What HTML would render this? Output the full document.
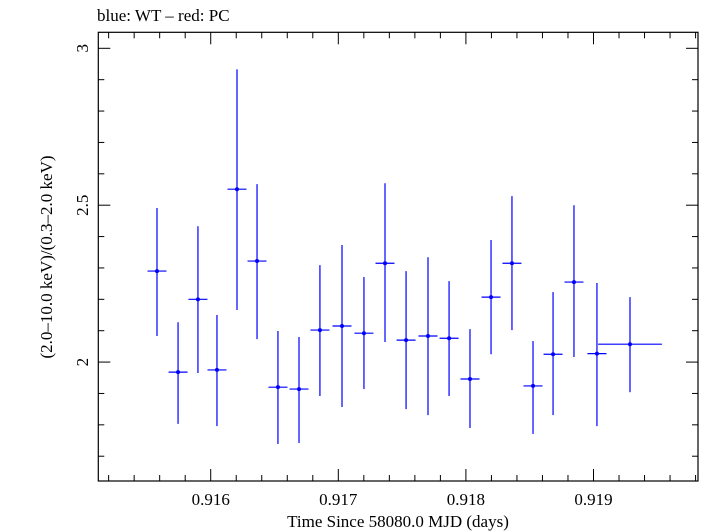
<!DOCTYPE html>
<html><head><meta charset="utf-8"><style>
body{margin:0;background:#fff}
svg{display:block;font-family:"Liberation Serif",serif}
</style></head><body>
<svg id="chart" width="705" height="532">
<text x="97" y="21" font-size="17">blue: WT – red: PC</text>
<rect x="98.3" y="32.3" width="599.7" height="448.7" fill="none" stroke="#000" stroke-width="1.2"/>
<g id="axes"></g>
<g id="series"></g>
<text x="398" y="527" font-size="17" text-anchor="middle">Time Since 58080.0 MJD (days)</text>
<text transform="translate(52,257) rotate(-90)" font-size="17" text-anchor="middle">(2.0–10.0 keV)/(0.3–2.0 keV)</text>
</svg>
<script>
const xVals=[0.915579,0.915744,0.915900,0.916049,0.916206,0.916363,0.916527,0.916692,0.916856,0.917029,0.917201,0.917366,0.917531,0.917703,0.917868,0.918032,0.918197,0.918361,0.918526,0.918683,0.918847,0.919027,0.919286];
const xErr=[0.0000745,0.0000745,0.0000745,0.0000745,0.0000745,0.0000745,0.0000745,0.0000745,0.0000745,0.0000745,0.0000745,0.0000745,0.0000745,0.0000745,0.0000745,0.0000745,0.0000745,0.0000745,0.0000745,0.0000745,0.0000745,0.0000745,0.00025];
const yVals=[2.290,1.968,2.200,1.975,2.551,2.322,1.920,1.914,2.102,2.115,2.092,2.315,2.070,2.083,2.076,1.946,2.207,2.315,1.924,2.025,2.255,2.027,2.057];
const yHi=[2.491,2.127,2.433,2.150,2.933,2.567,2.099,2.080,2.309,2.373,2.271,2.570,2.290,2.334,2.258,2.105,2.389,2.529,2.067,2.223,2.500,2.252,2.207];
const yLo=[2.083,1.803,1.965,1.796,2.166,2.073,1.739,1.742,1.892,1.857,1.914,2.064,1.850,1.831,1.892,1.790,2.025,2.102,1.771,1.831,2.016,1.796,1.904];
const xTicks=[0.916,0.917,0.918,0.919];
const xTickLabels=["0.916","0.917","0.918","0.919"];
const yTicks=[2,2.5,3];
const yTickLabels=["2","2.5","3"];
const L=98.3,R=698,T=32.3,B=481;
const X0=0.915119,X1=0.919819,Y0=1.621,Y1=3.051;
const sx=v=>L+(v-X0)/(X1-X0)*(R-L);
const sy=v=>B-(v-Y0)/(Y1-Y0)*(B-T);
const NS="http://www.w3.org/2000/svg";
const axes=document.getElementById('axes'),ser=document.getElementById('series');
function ln(p,x1,y1,x2,y2,c,w){const e=document.createElementNS(NS,'line');e.setAttribute('x1',x1);e.setAttribute('y1',y1);e.setAttribute('x2',x2);e.setAttribute('y2',y2);e.setAttribute('stroke',c);e.setAttribute('stroke-width',w);p.appendChild(e);return e;}
function tx(p,x,y,s,rot){const e=document.createElementNS(NS,'text');e.setAttribute('x',x);e.setAttribute('y',y);e.setAttribute('font-size','17');e.setAttribute('text-anchor','middle');if(rot)e.setAttribute('transform',`rotate(-90 ${x} ${y})`);e.textContent=s;p.appendChild(e);return e;}
// x minor ticks
for(let i=Math.ceil(X0/0.0002);i*0.0002<=X1;i++){const v=i*0.0002,x=sx(v);const maj=Math.abs(v*1000-Math.round(v*1000))<1e-6;const len=maj?12:6;
const a=ln(axes,x,B,x,B-len,'#000',1);
const b=ln(axes,x,T,x,T+len,'#000',1);}
xTicks.forEach((v,i)=>{const t=tx(axes,sx(v),505,xTickLabels[i]);});
for(let i=Math.ceil(Y0*10);i/10<=Y1;i++){const v=i/10,y=sy(v);const maj=i%5===0;const len=maj?12:6;
const a=ln(axes,L,y,L+len,y,'#000',1);
const b=ln(axes,R,y,R-len,y,'#000',1);}
yTicks.forEach((v,i)=>{const t=tx(axes,88,sy(v),yTickLabels[i],true);});
xVals.forEach((v,i)=>{const x=sx(v),y=sy(yVals[i]);
const h=ln(ser,sx(v-xErr[i]),y,sx(v+xErr[i]),y,'#0000ff',1.2);
const e=ln(ser,x,sy(yHi[i]),x,sy(yLo[i]),'#0000ff',1.2);
const c=document.createElementNS(NS,'circle');c.setAttribute('cx',x);c.setAttribute('cy',y);c.setAttribute('r',2);c.setAttribute('fill','#0000ff');


ser.appendChild(c);});
</script>
</body></html>
